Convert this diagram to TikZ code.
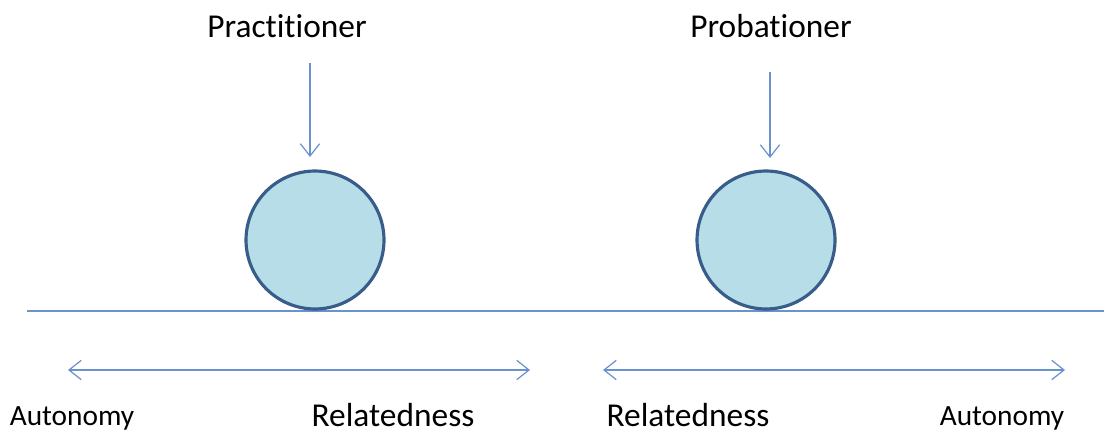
\documentclass[tikz,border=0pt]{standalone}
\usepackage{fontspec}
\setmainfont{Carlito}
\usetikzlibrary{arrows.meta}

\definecolor{lineblue}{RGB}{106,146,204}
\definecolor{ballfill}{RGB}{183,222,232}
\definecolor{balledge}{RGB}{56,93,138}

\tikzset{
  ball/.style={circle, draw=balledge, fill=ballfill, line width=1.8pt, minimum size=2.76cm, inner sep=0pt},
  pointer/.style={lineblue, line width=0.7pt, -{Straight Barb[length=7pt,width=11pt]}},
  twoway/.style={lineblue, line width=0.7pt, {Straight Barb[length=7pt,width=11pt]}-{Straight Barb[length=7pt,width=11pt]}},
  word/.style={font=\fontsize{19}{22}\selectfont, inner sep=0pt, anchor=base},
  smallword/.style={word, font=\fontsize{16.7}{20}\selectfont}
}

\begin{document}
\begin{tikzpicture}[x=0.02cm, y=-0.02cm]
\useasboundingbox (0,0) rectangle (1104,432);

% the ground line
\draw[lineblue, line width=0.8pt] (27,311) -- (1104,311);

% the two balls
\node[ball] (practball) at (315,240) {};
\node[ball] (probball) at (766,240) {};

% headings (kern stops the ti ligature)
\node[word] (practitioner) at (287,38) {Pract\kern0pt it\kern0pt ioner};
\node[word] (probationer) at (771,38) {Probat\kern0pt ioner};

\coordinate (practtop) at (310,63);
\coordinate (practend) at (310,157);
\coordinate (probtop) at (770,72);
\coordinate (probend) at (770,158);
\draw[pointer] (practtop) -- (practend);
\draw[pointer] (probtop) -- (probend);

% the two scales
\coordinate (leftA) at (68,370);
\coordinate (leftB) at (530,370);
\coordinate (rightA) at (603,370);
\coordinate (rightB) at (1065,370);
\draw[twoway] (leftA) -- (leftB);
\draw[twoway] (rightA) -- (rightB);

\node[smallword] (autoleft) at (72,425) {Autonomy};
\node[word] (relleft) at (393,426) {Relatedness};
\node[word] (relright) at (688,426) {Relatedness};
\node[smallword] (autoright) at (1002,425) {Autonomy};

\end{tikzpicture}
\end{document}
